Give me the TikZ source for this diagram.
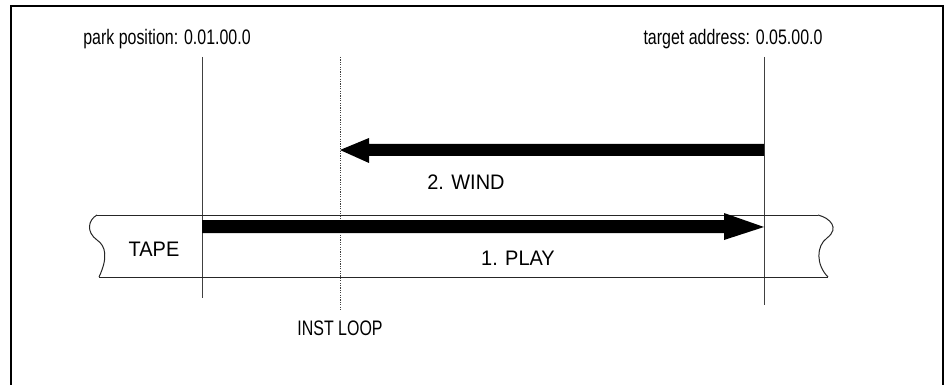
\documentclass[tikz,border=0pt]{standalone}
\usepackage{fontspec}
\setmainfont{Liberation Sans}
\newfontfamily\narrowsans[FakeStretch=0.76]{Liberation Sans}
\newfontfamily\capsans[FakeStretch=0.95]{Liberation Sans}
\begin{document}
\begin{tikzpicture}[x=1pt,y=-1pt,
  lbl/.style={inner sep=0pt,font=\narrowsans\fontsize{21}{23}\selectfont},
  clbl/.style={inner sep=0pt,font=\capsans\fontsize{21}{23}\selectfont},
  guide/.style={line width=0.9pt,black!75},
  tapeline/.style={line width=1pt,black!85},
  bigarrow/.style={fill=black,draw=none}]
\useasboundingbox (0,0) rectangle (951,385);
% frame (open at bottom)
\draw[line width=2pt] (11,386) -- (11,6) -- (943,6) -- (943,386);
% guide lines
\coordinate (parkT) at (202,57); \coordinate (parkB) at (202,298);
\coordinate (instT) at (340,57); \coordinate (instB) at (340,310);
\coordinate (targT) at (764,57); \coordinate (targB) at (764,305);
\draw[guide] (parkT) -- (parkB);
\draw[guide,dash pattern=on 1.2pt off 1.2pt] (instT) -- (instB);
\draw[guide] (targT) -- (targB);
% tape
\draw[tapeline] (97,215) -- (818,215);
\draw[tapeline] (99,277) -- (828,277);
\draw[tapeline] (97,215) .. controls (88,220) and (86,232) .. (97,240)
  .. controls (106,246) and (108,258) .. (99,277);
\draw[tapeline] (818,215) .. controls (830,218) and (840,228) .. (827,238)
  .. controls (816,246) and (816,265) .. (828,277);
% arrows
\fill[bigarrow] (764,144) -- (369,144) -- (369,138) -- (340,150) -- (369,163) -- (369,156) -- (764,156) -- cycle;
\fill[bigarrow] (202,220) -- (724,220) -- (724,213) -- (764,227) -- (724,240) -- (724,233) -- (202,233) -- cycle;
% labels
\node[lbl] (park) at (167,39) {park position: 0.01.00.0};
\node[lbl] (targ) at (733,39) {target address: 0.05.00.0};
\node[clbl] (wind) at (466,182) {2. WIND};
\node[clbl] (play) at (518,258) {1. PLAY};
\node[clbl] (tape) at (154,249) {TAPE};
\node[lbl] (inst) at (340,328) {INST LOOP};
\end{tikzpicture}
\end{document}
